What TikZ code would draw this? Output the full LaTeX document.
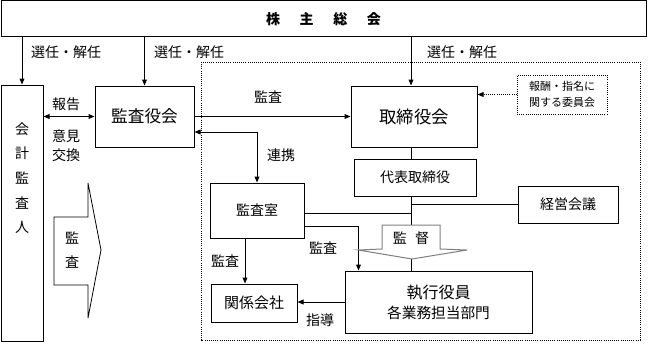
\documentclass[tikz,border=0pt]{standalone}
\usepackage{fontspec}
\setmainfont{Noto Sans CJK JP}
\usepackage{tikz}
\usetikzlibrary{arrows.meta, positioning, calc}

\tikzset{
  box/.style={draw, inner sep=0pt, align=center, font=\fontsize{10.5}{13}\selectfont},
  lbl/.style={inner sep=0pt, font=\fontsize{10.5}{13}\selectfont},
}

\begin{document}
\begin{tikzpicture}[x=0.75pt, y=-0.75pt, line width=0.75pt, >={Triangle[length=4.5pt,width=3.6pt]}]
  \useasboundingbox (0,0) rectangle (648,346);
  \draw[densely dotted, line width=0.6pt] (201,62) rectangle (640,340);
  % boxes
  \node[box, minimum width=483.75pt, minimum height=27pt, font=\bfseries\fontsize{10.5}{13}\selectfont] (sokai) at (323.5,19) {株\hspace{1.4em}主\hspace{1.4em}総\hspace{1.4em}会};
  \node[box, minimum width=31.5pt, minimum height=192pt] (kaikei) at (22,213) {};
  \node[lbl, align=center, font=\fontsize{10.5}{18.5}\selectfont] (kaikeitxt) at (22,178) {会\\計\\監\\査\\人};
  \node[box, minimum width=74.25pt, minimum height=45.75pt, font=\fontsize{12.5}{15}\selectfont] (kansayaku) at (144.5,116.5) {監査役会};
  \node[box, minimum width=94.5pt, minimum height=45.75pt, font=\fontsize{13}{15}\selectfont] (torishimari) at (414,116.5) {取締役会};
  \node[box, densely dotted, line width=0.6pt, minimum width=67.5pt, minimum height=29.25pt, font=\fontsize{8.25}{12}\selectfont] (iinkai) at (562,94.5) {報酬・指名に\\関する委員会};
  \node[box, minimum width=91.5pt, minimum height=27.75pt] (daihyo) at (415,177.5) {代表取締役};
  \node[box, minimum width=75pt, minimum height=27.75pt] (keiei) at (568,204.5) {経営会議};
  \node[box, minimum width=70.5pt, minimum height=41.25pt] (kansashitsu) at (257,210.5) {監査室};
  \node[box, minimum width=64.5pt, minimum height=28.5pt, font=\fontsize{11.25}{13}\selectfont] (kankei) at (254,303) {関係会社};
  \node[box, minimum width=140.25pt, minimum height=46.5pt, font=\fontsize{11}{15}\selectfont] (shikko) at (438.5,302) {{\fontsize{12}{15}\selectfont 執行役員}\\各業務担当部門};
  \coordinate (trunk) at (411,0);
  % connectors
  \draw[->] (sokai.south -| kaikei) -- (kaikei.north);
  \draw[->] (sokai.south -| kansayaku) -- (kansayaku.north);
  \draw[->] (sokai.south -| trunk) -- (torishimari.north -| trunk);
  \draw[<->] (kansayaku.west -| kaikei.east) -- (kansayaku.west);
  \draw[->] (kansayaku.east) -- (torishimari.west);
  \draw[<->] ($(kansayaku.east)+(0,15.5)$) -| (kansashitsu.north);
  \draw[densely dotted, line width=0.6pt, ->] (iinkai.west) -- (iinkai.west -| torishimari.east);
  \draw (torishimari.south -| trunk) -- (daihyo.north -| trunk);
  \draw (daihyo.south -| trunk) -- (shikko.north -| trunk);
  \draw (keiei.west -| trunk) -- (keiei.west);
  \coordinate (ku) at ($(kansashitsu.east)+(0,3)$);
  \draw (ku) -- (ku -| trunk);
  \coordinate (kl) at ($(kansashitsu.east)+(0,15.5)$);
  \coordinate (sk) at ($(shikko.north west)+(14,0)$);
  \draw[->] (kl) -| (sk);
  \coordinate (kk) at ($(kankei.north)+(-9,0)$);
  \draw[->] (kansashitsu.south -| kk) -- (kk);
  \draw[->] (shikko.west) -- (shikko.west -| kankei.east);
  % block arrows
  \draw[gray, fill=white] (382,225) -- (440,225) -- (440,249) -- (467,250) -- (412,259) -- (358,250) -- (382,249) -- cycle;
  \node[lbl] (kantoku) at (411,238) {監\hspace{0.6em}督};
  \draw[line width=0.6pt] (54,217) -- (88,217) -- (88,183) -- (101,250) -- (88,318) -- (88,285) -- (54,285) -- cycle;
  \node[lbl, align=center, font=\fontsize{10.5}{18.5}\selectfont] (kansa) at (72,250) {監\\査};
  % labels
  \node[lbl] (sennin1) at (66,52) {選任・解任};
  \node[lbl] (sennin2) at (189,52) {選任・解任};
  \node[lbl] (sennin3) at (462,52) {選任・解任};
  \node[lbl] (hokoku) at (66,104) {報告};
  \node[lbl, align=center, font=\fontsize{10.5}{14.25}\selectfont] (iken) at (66,145.5) {意見\\交換};
  \node[lbl] (kansa1) at (268,97) {監査};
  \node[lbl] (renkei) at (281,155) {連携};
  \node[lbl] (kansa2) at (323,248) {監査};
  \node[lbl] (kansa3) at (225,261) {監査};
  \node[lbl] (shido) at (320,320) {指導};
\end{tikzpicture}
\end{document}
